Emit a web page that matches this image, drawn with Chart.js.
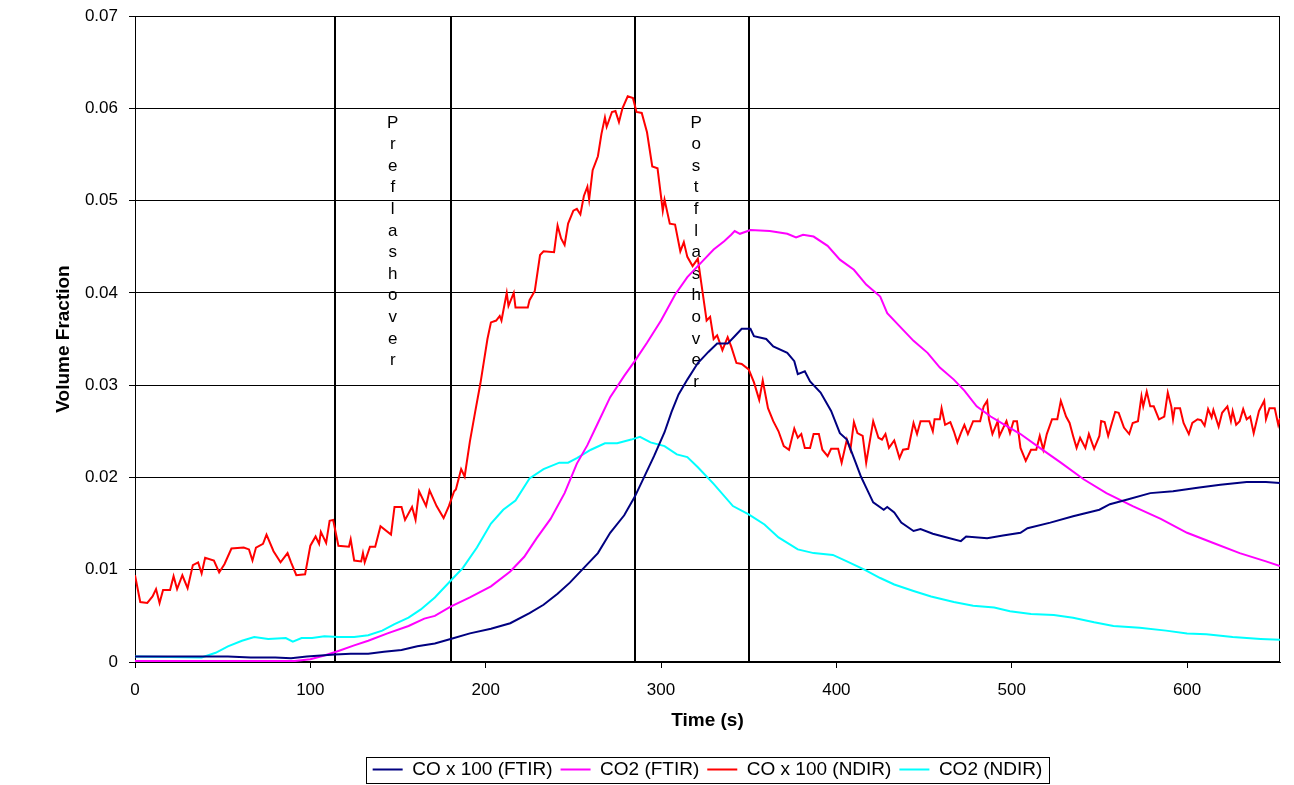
<!DOCTYPE html>
<html><head><meta charset="utf-8">
<script src="https://cdn.jsdelivr.net/npm/chart.js@4.4.1/dist/chart.umd.min.js"></script>
<style>html,body{margin:0;padding:0;background:#fff;}#wrap{width:1294px;height:785px;}</style>
</head><body><div id="wrap"><canvas id="c" width="1294" height="785"></canvas></div>
<script>
// ---- data (time in s, volume fraction) ----
const coFtirT = [0,53,66,80,89,98,106,114,123,133,142,152,161,171,180,191,203,214,225,233,241,248,256,264,271,279,285,290,296,302,306,310,315,321,327,332,338,342,346,351,353,360,364,372,376,378,382,385,391,397,402,406,411,414,417,421,427,429,433,437,444,448,455,463,471,474,486,495,505,509,522,535,550,556,566,579,592,607,619,634,645,653];
const coFtirV = [0.0006,0.0006,0.0005,0.0005,0.0004,0.0006,0.0007,0.0008,0.0009,0.0009,0.0011,0.0013,0.0017,0.0020,0.0025,0.0031,0.0036,0.0042,0.0053,0.0062,0.0074,0.0086,0.0102,0.0118,0.0140,0.0159,0.0179,0.0199,0.0223,0.0249,0.0271,0.0290,0.0306,0.0324,0.0336,0.0345,0.0345,0.0353,0.0361,0.0361,0.0353,0.0350,0.0342,0.0335,0.0326,0.0312,0.0315,0.0304,0.0292,0.0272,0.0248,0.0241,0.0216,0.0201,0.0189,0.0173,0.0165,0.0168,0.0162,0.0151,0.0142,0.0144,0.0139,0.0135,0.0131,0.0136,0.0134,0.0137,0.0140,0.0145,0.0151,0.0158,0.0165,0.0171,0.0176,0.0183,0.0185,0.0189,0.0192,0.0195,0.0195,0.0194];

const co2FtirT = [0,91,100,108,116,125,133,144,156,165,171,180,191,203,214,222,229,237,245,252,258,264,271,279,285,292,300,308,315,323,330,336,340,342,345,351,362,372,377,381,387,395,402,410,417,425,429,436,444,452,459,467,473,480,488,495,505,516,528,541,554,569,585,600,615,630,645,653];
const co2FtirV = [0.0001,0.0001,0.0003,0.0007,0.0012,0.0018,0.0023,0.0031,0.0039,0.0047,0.0050,0.0060,0.0070,0.0082,0.0098,0.0114,0.0134,0.0155,0.0183,0.0215,0.0235,0.0259,0.0287,0.0310,0.0326,0.0346,0.0370,0.0398,0.0417,0.0433,0.0447,0.0456,0.0463,0.0467,0.0464,0.0468,0.0467,0.0464,0.0460,0.0463,0.0461,0.0451,0.0436,0.0425,0.0409,0.0396,0.0378,0.0364,0.0348,0.0335,0.0319,0.0306,0.0294,0.0277,0.0266,0.0258,0.0247,0.0232,0.0216,0.0198,0.0183,0.0169,0.0155,0.0140,0.0129,0.0118,0.0109,0.0104];

const coNdirT = [0,3,7,10,12,14,16,20,22,24,27,30,33,36,38,40,45,48,51,55,62,65,67,69,73,75,79,83,87,89,92,97,100,103,105,106,109,111,113,116,122,123,125,129,130,131,134,137,140,146,148,152,154,158,160,162,166,168,
172,176,179,182,183,186,188,191,194,197,199,201,203,206,208,209,212,213,216,217,224,225,228,231,233,239,241,243,245,247,250,252,254,256,258,259,261,264,266,268,269,272,274,276,278,281,284,286,289,292,295,298,301,302,305,308,311,313,315,318,321,323,326,328,330,332,335,338,340,
343,346,350,353,356,358,361,364,367,370,373,376,378,380,382,385,387,390,392,395,397,401,403,406,408,410,412,415,417,421,424,426,428,430,433,436,438,441,444,446,448,453,455,456,459,460,462,465,467,469,471,473,475,478,482,484,486,487,489,492,493,
497,499,501,503,505,508,511,514,516,518,520,523,526,528,531,533,535,537,539,542,544,547,550,551,553,555,559,561,564,567,569,572,574,575,577,579,581,584,587,589,591,592,593,596,598,601,603,606,608,610,612,614,615,618,620,623,625,626,628,630,632,634,636,638,641,644,645,647,650,652,653];
const coNdirV = [0.0094,0.0065,0.0064,0.0071,0.0079,0.0064,0.0078,0.0078,0.0093,0.0079,0.0094,0.0080,0.0105,0.0108,0.0096,0.0113,0.0110,0.0097,0.0106,0.0123,0.0124,0.0122,0.0110,0.0124,0.0128,0.0138,0.0120,0.0108,0.0118,0.0108,0.0094,0.0095,0.0126,0.0136,0.0128,0.0141,0.0129,0.0153,0.0154,0.0126,0.0125,0.0133,0.0110,0.0109,0.0118,0.0108,0.0125,0.0125,0.0147,0.0138,0.0168,0.0168,0.0154,0.0168,0.0154,0.0185,0.0169,0.0186,
0.0169,0.0156,0.0169,0.0185,0.0187,0.0209,0.0201,0.0239,0.0271,0.0302,0.0326,0.0350,0.0368,0.0370,0.0375,0.0370,0.0400,0.0386,0.0400,0.0384,0.0384,0.0392,0.0402,0.0441,0.0445,0.0444,0.0473,0.0459,0.0452,0.0475,0.0489,0.0491,0.0485,0.0505,0.0515,0.0501,0.0533,0.0548,0.0572,0.0590,0.0580,0.0596,0.0597,0.0585,0.0600,0.0613,0.0611,0.0596,0.0595,0.0574,0.0537,0.0535,0.0489,0.0501,0.0475,0.0474,0.0445,0.0455,0.0439,0.0429,0.0437,0.0410,0.0370,0.0374,0.0350,0.0354,0.0338,0.0352,0.0342,
0.0324,0.0323,0.0317,0.0303,0.0284,0.0305,0.0275,0.0261,0.0250,0.0234,0.0230,0.0253,0.0243,0.0247,0.0232,0.0232,0.0247,0.0247,0.0230,0.0223,0.0231,0.0231,0.0216,0.0241,0.0230,0.0260,0.0248,0.0245,0.0216,0.0261,0.0243,0.0241,0.0247,0.0232,0.0240,0.0221,0.0230,0.0231,0.0259,0.0247,0.0261,0.0261,0.0250,0.0263,0.0263,0.0275,0.0257,0.0260,0.0250,0.0238,0.0248,0.0257,0.0247,0.0261,0.0261,0.0277,0.0283,0.0263,0.0247,0.0261,0.0245,
0.0261,0.0248,0.0261,0.0261,0.0232,0.0218,0.0230,0.0230,0.0245,0.0230,0.0247,0.0263,0.0263,0.0283,0.0266,0.0259,0.0245,0.0232,0.0243,0.0232,0.0247,0.0231,0.0245,0.0261,0.0260,0.0245,0.0271,0.0270,0.0254,0.0247,0.0259,0.0261,0.0288,0.0277,0.0293,0.0277,0.0277,0.0263,0.0266,0.0292,0.0277,0.0263,0.0275,0.0275,0.0259,0.0247,0.0259,0.0263,0.0262,0.0256,0.0274,0.0265,0.0273,0.0255,0.0270,0.0277,0.0261,0.0272,0.0257,0.0261,0.0274,0.0263,0.0266,0.0248,0.0272,0.0283,0.0263,0.0275,0.0275,0.0257,0.0264];

const co2NdirT = [0,38,46,53,61,68,76,86,90,95,101,108,116,125,133,141,148,156,163,171,180,187,195,203,210,217,225,233,242,247,252,260,268,275,283,288,294,302,309,315,321,330,341,350,359,367,378,387,398,406,416,425,433,444,454,467,478,490,499,511,524,535,547,558,573,588,600,611,626,642,653];
const co2NdirV = [0.0006,0.0005,0.0010,0.0017,0.0023,0.0027,0.0025,0.0026,0.0022,0.0026,0.0026,0.0028,0.0027,0.0027,0.0029,0.0034,0.0041,0.0048,0.0057,0.0070,0.0088,0.0102,0.0124,0.0150,0.0165,0.0175,0.0199,0.0209,0.0216,0.0216,0.0221,0.0230,0.0237,0.0237,0.0241,0.0244,0.0238,0.0234,0.0225,0.0222,0.0211,0.0193,0.0169,0.0160,0.0149,0.0135,0.0122,0.0118,0.0116,0.0109,0.0100,0.0091,0.0084,0.0077,0.0071,0.0065,0.0061,0.0059,0.0055,0.0052,0.0051,0.0048,0.0043,0.0039,0.0037,0.0034,0.0031,0.0030,0.0027,0.0025,0.0024];

const seriesNames = ['CO x 100 (FTIR)','CO2 (FTIR)','CO x 100 (NDIR)','CO2 (NDIR)'];
const seriesColors = ['#000080','#FF00FF','#FF0000','#00FFFF'];
const eventTimes = [114,180,285,350];
const phaseLabels = ['Preflashover','Postflashover'];
const phaseLabelTimes = [147,320];
const xTicks = [0,100,200,300,400,500,600];
const yTicks = [0,0.01,0.02,0.03,0.04,0.05,0.06,0.07];
const xMax = 653, yMax = 0.07;
const xTitle = 'Time (s)', yTitle = 'Volume Fraction';

// ---- build ----
const pts = (t,v) => t.map((x,i)=>({x:x,y:v[i]}));
const seriesData = [pts(coFtirT,coFtirV),pts(co2FtirT,co2FtirV),pts(coNdirT,coNdirV),pts(co2NdirT,co2NdirV)];
const FONT = '"Liberation Sans", Arial, sans-serif';

const bgPlugin = {id:'bg', beforeDraw(ch){const c=ch.ctx;c.save();c.fillStyle='#fff';c.fillRect(0,0,ch.width,ch.height);c.restore();}};
const framePlugin = {id:'frame',
  beforeDatasetsDraw(ch){
    const c=ch.ctx, a=ch.chartArea, xs=ch.scales.x;
    c.save();
    c.strokeStyle='#000'; c.lineWidth=2;
    eventTimes.forEach(t=>{const px=Math.round(xs.getPixelForValue(t));c.beginPath();c.moveTo(px,a.top);c.lineTo(px,a.bottom);c.stroke();});
    c.lineWidth=1; c.strokeStyle='#000';
    c.strokeRect(Math.round(a.left)+0.5,Math.round(a.top)+0.5,Math.round(a.right-a.left)-1,Math.round(a.bottom-a.top)-1);
    c.fillStyle='#000'; c.font='17px '+FONT; c.textAlign='center'; c.textBaseline='middle';
    phaseLabels.forEach((s,k)=>{const px=xs.getPixelForValue(phaseLabelTimes[k]);
      for(let i=0;i<s.length;i++){c.fillText(s[i],px,a.top+107+i*21.6);} });
    c.restore();
  },
  afterDraw(ch){
    const hb=ch.legend && ch.legend.legendHitBoxes; if(!hb||!hb.length) return;
    const c=ch.ctx; const l=hb[0].left-7, last=hb[hb.length-1], r=last.left+last.width+6;
    const cy=hb[0].top+hb[0].height/2;
    c.save(); c.strokeStyle='#000'; c.lineWidth=1;
    c.strokeRect(Math.round(l)+0.5,Math.round(cy-13)+0.5,Math.round(r-l),26); c.restore();
  }
};

new Chart(document.getElementById('c'),{
  type:'line',
  data:{datasets: seriesNames.map((n,i)=>({label:n,data:seriesData[i],borderColor:seriesColors[i],backgroundColor:seriesColors[i],borderWidth:2,pointRadius:0,tension:0,fill:false}))},
  options:{
    responsive:false, animation:false, devicePixelRatio:1,
    layout:{padding:{left:0,right:14,top:16,bottom:-4}},
    plugins:{
      legend:{display:true,position:'bottom',fullSize:false,
        labels:{font:{family:FONT,size:19},color:'#000',boxWidth:30,boxHeight:2,padding:8,
          generateLabels(ch){const items=Chart.defaults.plugins.legend.labels.generateLabels(ch);items.forEach(it=>{it.lineWidth=0;it.fillStyle=it.strokeStyle;});return items;}}},
      tooltip:{enabled:false}
    },
    scales:{
      x:{type:'linear',min:0,max:xMax,
        afterBuildTicks(s){s.ticks=xTicks.map(v=>({value:v}));},
        afterFit(s){s.height=90;s.paddingLeft=0;s.paddingRight=0;},
        grid:{drawOnChartArea:false,drawTicks:true,tickLength:6,tickColor:'#000',color:'#000'},
        border:{display:true,color:'#000',width:1},
        ticks:{font:{family:FONT,size:17},color:'#000',padding:12,maxRotation:0,callback:v=>String(v)},
        title:{display:true,text:xTitle,font:{family:FONT,size:19,weight:'bold'},color:'#000',padding:{top:0,bottom:20}}
      },
      y:{type:'linear',min:0,max:yMax,
        afterBuildTicks(s){s.ticks=yTicks.map(v=>({value:v}));},
        afterFit(s){s.width=135;s.paddingTop=0;s.paddingBottom=0;},
        grid:{color:'#000',lineWidth:1,drawTicks:true,tickLength:6,tickColor:'#000'},
        border:{display:true,color:'#000',width:1},
        ticks:{font:{family:FONT,size:17},color:'#000',padding:11,callback:v=>v===0?'0':v.toFixed(2)},
        title:{display:true,text:yTitle,font:{family:FONT,size:19,weight:'bold'},color:'#000',padding:{top:52,bottom:0}}
      }
    }
  },
  plugins:[bgPlugin,framePlugin]
});
</script></body></html>
